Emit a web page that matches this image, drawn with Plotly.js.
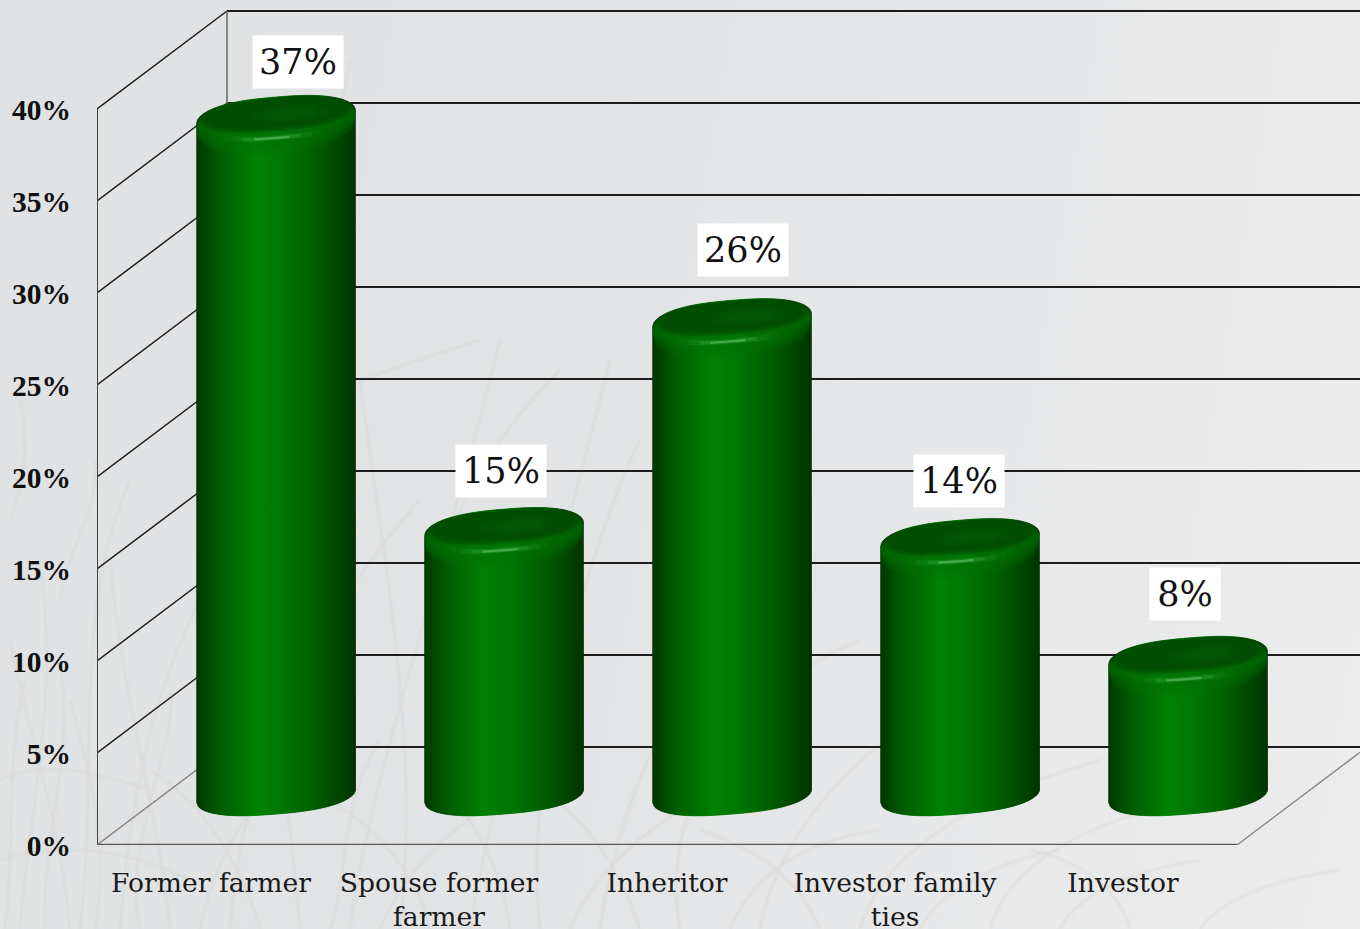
<!DOCTYPE html>
<html>
<head>
<meta charset="utf-8">
<script src="https://cdn.plot.ly/plotly-3.0.1.min.js"></script>
<style>
html,body{margin:0;padding:0;width:1360px;height:929px;overflow:hidden;
background:linear-gradient(100deg,#dfe1e3 0%,#e2e4e6 45%,#ececec 100%);}
#bg{position:absolute;left:0;top:0;filter:blur(1.2px);}
#chart{position:absolute;left:0;top:0;width:1360px;height:929px;}
</style>
</head>
<body>
<svg id="bg" width="1360" height="929" fill="none" stroke="#cfcdc7" stroke-width="2" opacity="0.42">
<path d="M20 929C30 800 60 700 40 560M70 929C60 820 30 740 10 640M120 929C130 800 150 700 200 600M170 929C160 820 120 690 110 560M230 929C240 760 330 600 420 500M300 929C290 800 260 640 270 480M350 929C370 780 430 620 500 340M400 929C420 760 390 600 360 380M470 929C490 800 560 560 610 360M540 929C520 760 600 520 640 440M600 929C620 780 700 640 760 600M680 929C660 820 720 700 860 640M760 929C780 820 880 720 1000 680M860 929C880 860 960 800 1100 760M990 929C1010 860 1100 810 1220 800M80 929C100 760 70 620 130 480M440 560C470 480 500 430 560 370M300 420C340 380 420 360 480 340M350 60C340 120 320 170 330 230"/>
<path d="M5 929C15 860 5 760 25 680M45 929C40 850 75 760 60 660M95 929C110 850 90 770 70 700M140 929C120 850 180 740 170 690M200 929C215 860 240 820 290 760M260 929C240 860 200 800 150 770M330 929C350 870 340 800 380 740M380 929C400 880 450 820 520 790M430 929C420 880 380 830 330 800M510 929C500 860 470 810 430 780M570 929C590 880 640 830 700 800M640 929C620 870 590 820 540 790M730 929C750 880 800 840 880 830M820 929C800 880 760 850 700 830M920 929C940 890 1000 860 1060 850M1060 929C1080 890 1140 870 1200 860M1130 929C1120 890 1080 860 1030 850M1200 929C1220 900 1270 880 1340 870"/>
<path d="M0 780C40 760 90 770 150 790M0 860C60 840 130 850 190 880M10 520C25 480 30 450 20 400M60 600C70 540 100 510 95 460"/>
</svg>
<div id="chart"></div>
<script>
// ---- data ----
var categories = ["Former farmer", "Spouse former<br>farmer", "Inheritor", "Investor family<br>ties", "Investor"];
var values = [36.9, 14.5, 25.85, 13.9, 7.5];
var valueLabels = ["37%", "15%", "26%", "14%", "8%"];
var labelNudgeX = [22, -3, 11, -1, -3];
var labelNudgeY = [-55, -58, -70, -59, -64];
var tickValues = [0, 5, 10, 15, 20, 25, 30, 35, 40];
var tickLabels = ["0%", "5%", "10%", "15%", "20%", "25%", "30%", "35%", "40%"];

// ---- pseudo-3D geometry, in axis units ----
var pxX = 228, pxY = 18.4;
var depthX = 130 / pxX, depthY = 98 / pxY;     // full wall depth
var midX = depthX / 2, midY = depthY / 2;      // the cylinders stand half way in
var halfW = 79.5 / pxX;
var xEnd = -0.5 + 1263 / pxX, yEnd = 845 / pxY;
var rightEnd = categories.length - 0.5;

function lerp(a, b, t) { return a + (b - a) * t; }
function rgb(c) { return "rgb(" + c.map(Math.round).join(",") + ")"; }
function ramp(stops, t) {
  for (var i = 1; i < stops.length; i++) {
    if (t <= stops[i][0]) {
      var p = stops[i - 1], q = stops[i], f = (t - p[0]) / (q[0] - p[0]);
      return rgb([lerp(p[1][0], q[1][0], f), lerp(p[1][1], q[1][1], f), lerp(p[1][2], q[1][2], f)]);
    }
  }
  return rgb(stops[stops.length - 1][1]);
}
var bodyStops = [[-1, [0, 55, 0]], [-0.7, [0, 95, 0]], [-0.24, [0, 130, 5]], [0.1, [0, 118, 5]], [0.55, [0, 90, 0]], [0.95, [0, 58, 0]], [1, [0, 50, 0]]];

var traces = [];
function line(xs, ys, color, width) {
  traces.push({type: "scatter", mode: "lines", x: xs, y: ys, cliponaxis: false, hoverinfo: "skip", showlegend: false,
    line: {color: color, width: width}});
}
// walls and floor
tickValues.forEach(function (v) {
  var c = v === 0 ? "#8a8a8a" : "#1c1c1c";
  line([-0.5, -0.5 + depthX], [v, v + depthY], c, 1.5);
  line([-0.5 + depthX, xEnd], [v + depthY, v + depthY], "#1c1c1c", 1.8);
});
line([-0.5 + depthX, -0.5 + depthX], [depthY, 40 + depthY], "#666", 1.5);
line([-0.5, -0.5], [0, 40], "#444", 2);
line([-0.5, rightEnd], [0, 0], "#555", 2.5);
line([rightEnd, xEnd], [0, (xEnd - rightEnd) / depthX * depthY], "#8a8a8a", 1.5);

// data-carrying core of each column (the rounded shading is painted over it)
traces.push({type: "bar", x: values.map(function (v, i) { return i + midX; }), y: values, base: values.map(function () { return midY; }),
  width: halfW, marker: {color: "#007a05"}, hoverinfo: "skip", showlegend: false});

var shear = 6.5 / pxY, bBase = 18 / pxY, bTop = 20 / pxY;
function ell(u, b) { return b * Math.sqrt(Math.max(0, 1 - Math.pow(Math.abs(u), 2.6))); }

// cylinder bodies as strips: one trace per shade, one polygon per column
var nStrips = 64;
for (var s = 0; s < nStrips; s++) {
  var u0 = -1 + 2 * s / nStrips, steps = 6, xs = [], ys = [];
  values.forEach(function (v, i) {
    var px = [], py = [], k, u;
    var u1 = Math.min(1, u0 + 2 / nStrips + 0.03);
    for (k = 0; k <= steps; k++) { u = lerp(u0, u1, k / steps);
      px.push(i + midX + u * halfW); py.push(midY + shear * u - ell(u, bBase)); }
    for (k = steps; k >= 0; k--) { u = lerp(u0, u1, k / steps);
      px.push(i + midX + u * halfW); py.push(v + midY + shear * u + ell(u, bTop)); }
    xs = xs.concat(px, [px[0], null]); ys = ys.concat(py, [py[0], null]);
  });
  traces.push({type: "scatter", mode: "lines", x: xs, y: ys, fill: "toself", hoverinfo: "skip", showlegend: false, cliponaxis: false,
    fillcolor: ramp(bodyStops, u0 + 1 / nStrips), line: {width: 0.5, color: ramp(bodyStops, u0 + 1 / nStrips)}});
}

// soft discs on the top of each column
function disc(scaleA, offX, lift, b, color) {
  var xs = [], ys = [];
  values.forEach(function (v, i) {
    for (var k = 0; k <= 96; k++) {
      var t = 2 * Math.PI * k / 96, u = Math.cos(t), up = Math.sin(t) >= 0 ? 1 : -1;
      xs.push(i + midX + offX / pxX + u * halfW * scaleA);
      ys.push(v + midY + lift / pxY + shear * u * scaleA + up * ell(u, b / pxY));
    }
    xs.push(null); ys.push(null);
  });
  traces.push({type: "scatter", mode: "lines", x: xs, y: ys, fill: "toself", fillcolor: color, hoverinfo: "skip", showlegend: false,
    cliponaxis: false, line: {width: 0, color: color}});
}
// rounded shoulder: fades the body shading into the rim colour
[18, 16, 14, 12, 10, 8, 6, 4, 2, 0].forEach(function (d) {
  disc(1, 0, -d / 2, 20 + d / 2, "rgba(0,118,6,0.12)");
});
// darker inner disc, soft edged
[[0.96, 2.5, 17], [0.94, 3, 16.5], [0.92, 3.5, 16], [0.9, 4, 15.5], [0.88, 4.5, 15], [0.86, 5, 14.5]].forEach(function (c) {
  disc(c[0], 0, c[1], c[2], "rgba(0,70,0,0.25)");
});
// slight sheen on the cap, right of centre
[[0.55, 9], [0.42, 7], [0.3, 5]].forEach(function (c) {
  disc(c[0], 18, 4, c[1], "rgba(0,110,5,0.12)");
});
// rim highlight on the front of the cap
[[0.62, 7, "rgba(30,150,35,0.12)"], [0.5, 5, "rgba(45,160,50,0.18)"], [0.36, 3.5, "rgba(70,180,75,0.28)"], [0.22, 2.2, "rgba(120,205,120,0.45)"]].forEach(function (h) {
  var hx = [], hy = [];
  values.forEach(function (v, i) {
    for (var k = 0; k <= 16; k++) {
      var u = lerp(-h[0], h[0], k / 16) - 0.05;
      hx.push(i + midX + u * halfW); hy.push(v + midY + shear * u - ell(u, 21 / pxY));
    }
    hx.push(null); hy.push(null);
  });
  traces.push({type: "scatter", mode: "lines", x: hx, y: hy, hoverinfo: "skip", showlegend: false, cliponaxis: false,
    line: {color: h[2], width: h[1]}});
});

var annotations = values.map(function (v, i) {
  return {x: i + midX, y: v + midY, xref: "x", yref: "y", text: valueLabels[i], showarrow: false,
    xshift: labelNudgeX[i], yshift: -labelNudgeY[i], bgcolor: "#ffffff",
    width: valueLabels[i].length === 3 ? 88 : 68, height: 50, align: "center", valign: "middle",
    font: {family: "DejaVu Serif", size: 35, color: "#111"}};
});

var layout = {
  width: 1360, height: 929, margin: {l: 97, r: 0, t: 0, b: 84, pad: 0}, autosize: false,
  paper_bgcolor: "rgba(0,0,0,0)", plot_bgcolor: "rgba(0,0,0,0)", showlegend: false, barmode: "overlay",
  xaxis: {range: [-0.5, xEnd], tickmode: "array", tickvals: categories.map(function (c, i) { return i; }), ticktext: categories,
    showgrid: false, zeroline: false, showline: false, ticks: "", ticklabelstandoff: 19, tickangle: 0,
    tickfont: {family: "DejaVu Serif", size: 26.6, color: "#1a1a1a"}, fixedrange: true},
  yaxis: {range: [0, yEnd], tickmode: "array", tickvals: tickValues, ticktext: tickLabels,
    showgrid: false, zeroline: false, showline: false, ticks: "", ticklabelstandoff: 25, ticklabelshift: 1,
    tickfont: {family: "Liberation Serif", size: 29.5, color: "#111", weight: "bold"}, fixedrange: true},
  annotations: annotations
};
Plotly.newPlot("chart", traces, layout, {displayModeBar: false, staticPlot: true});
</script>
</body>
</html>
